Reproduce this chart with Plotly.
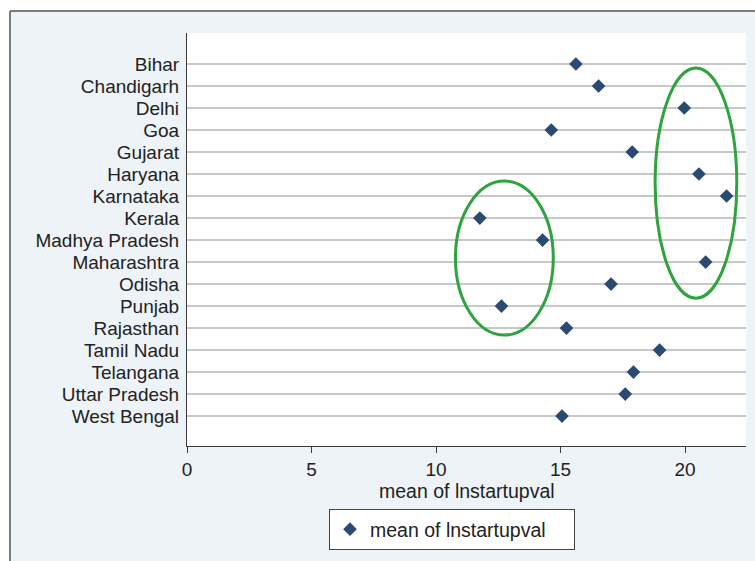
import plotly.graph_objects as go

states = ["Bihar", "Chandigarh", "Delhi", "Goa", "Gujarat", "Haryana", "Karnataka",
          "Kerala", "Madhya Pradesh", "Maharashtra", "Odisha", "Punjab", "Rajasthan",
          "Tamil Nadu", "Telangana", "Uttar Pradesh", "West Bengal"]
mean_lnstartupval = [15.62, 16.53, 19.97, 14.63, 17.88, 20.56, 21.67, 11.76, 14.28,
                     20.83, 17.03, 12.63, 15.24, 18.98, 17.93, 17.60, 15.06]
x_ticks = [0, 5, 10, 15, 20]
series_name = "mean of lnstartupval"

W, H = 755, 561
ML, MR, MT, MB = 187, 9, 33, 115
PW, PH = W - ML - MR, H - MT - MB

def px_x(p):
    return (p - ML) / PW

def px_y(p):
    return 1 - (p - MT) / PH

idx = list(range(len(states)))
font = "Liberation Sans, Arial, sans-serif"

fig = go.Figure()
fig.add_trace(go.Scatter(
    x=mean_lnstartupval, y=idx, mode="markers", name=series_name,
    marker=dict(symbol="diamond", size=10.5, color="#2B4A72"),
    showlegend=True,
))

green = "#2FA33E"
fig.add_shape(type="circle", xref="x", yref="y", x0=10.78, x1=14.71, y0=5.32, y1=12.32,
              line=dict(color=green, width=3), layer="above")
fig.add_shape(type="circle", xref="x", yref="y", x0=18.80, x1=22.08, y0=0.18, y1=10.64,
              line=dict(color=green, width=3), layer="above")

# outer frame: white strips at top and left, border lines
fig.add_shape(type="rect", xref="paper", yref="paper", x0=px_x(-5), x1=px_x(W + 5),
              y0=px_y(11), y1=px_y(-5), fillcolor="white", line=dict(width=0), layer="above")
fig.add_shape(type="rect", xref="paper", yref="paper", x0=px_x(-5), x1=px_x(10),
              y0=px_y(H + 5), y1=px_y(-5), fillcolor="white", line=dict(width=0), layer="above")
fig.add_shape(type="line", xref="paper", yref="paper", x0=px_x(10), x1=px_x(W + 5),
              y0=px_y(11), y1=px_y(11), line=dict(color="#555555", width=1.5), layer="above")
fig.add_shape(type="line", xref="paper", yref="paper", x0=px_x(10), x1=px_x(10),
              y0=px_y(11), y1=px_y(H + 5), line=dict(color="#555555", width=1.5), layer="above")

# x-axis title
fig.add_annotation(text=series_name, xref="paper", yref="paper", x=0.5, y=px_y(491),
                   xanchor="center", yanchor="middle", showarrow=False,
                   font=dict(family=font, size=19.5, color="#222222"))

fig.update_layout(
    width=W, height=H,
    margin=dict(l=ML, r=MR, t=MT, b=MB, pad=0),
    paper_bgcolor="#EEF3F7", plot_bgcolor="white",
    font=dict(family=font, size=19, color="#222222"),
    showlegend=True,
    legend=dict(
        orientation="h", x=px_x(329), xanchor="left", y=px_y(509), yanchor="top",
        bgcolor="white", bordercolor="#444444", borderwidth=1,
        font=dict(family=font, size=19.5, color="#222222"),
        itemwidth=30, entrywidth=199, entrywidthmode="pixels",
        tracegroupgap=0,
    ),
    xaxis=dict(
        range=[0, 22.45], tickvals=x_ticks, ticktext=[str(t) for t in x_ticks],
        showgrid=False, zeroline=False, showline=True, linecolor="#3A3A3A", linewidth=1.2,
        ticks="outside", ticklen=6, tickcolor="#3A3A3A", tickwidth=1.2,
        tickfont=dict(size=19),
    ),
    yaxis=dict(
        range=[17.36, -1.41], tickvals=idx, ticktext=states,
        showgrid=True, gridcolor="#C8C8C8", gridwidth=1.5,
        zeroline=False, showline=True, linecolor="#3A3A3A", linewidth=1.2,
        ticks="outside", ticklen=3, tickcolor="rgba(0,0,0,0)",
        tickfont=dict(size=19),
    ),
)

fig.write_html("out.html", config={"displayModeBar": False},
               post_script="document.body.style.margin='0';document.body.style.overflow='hidden';")
